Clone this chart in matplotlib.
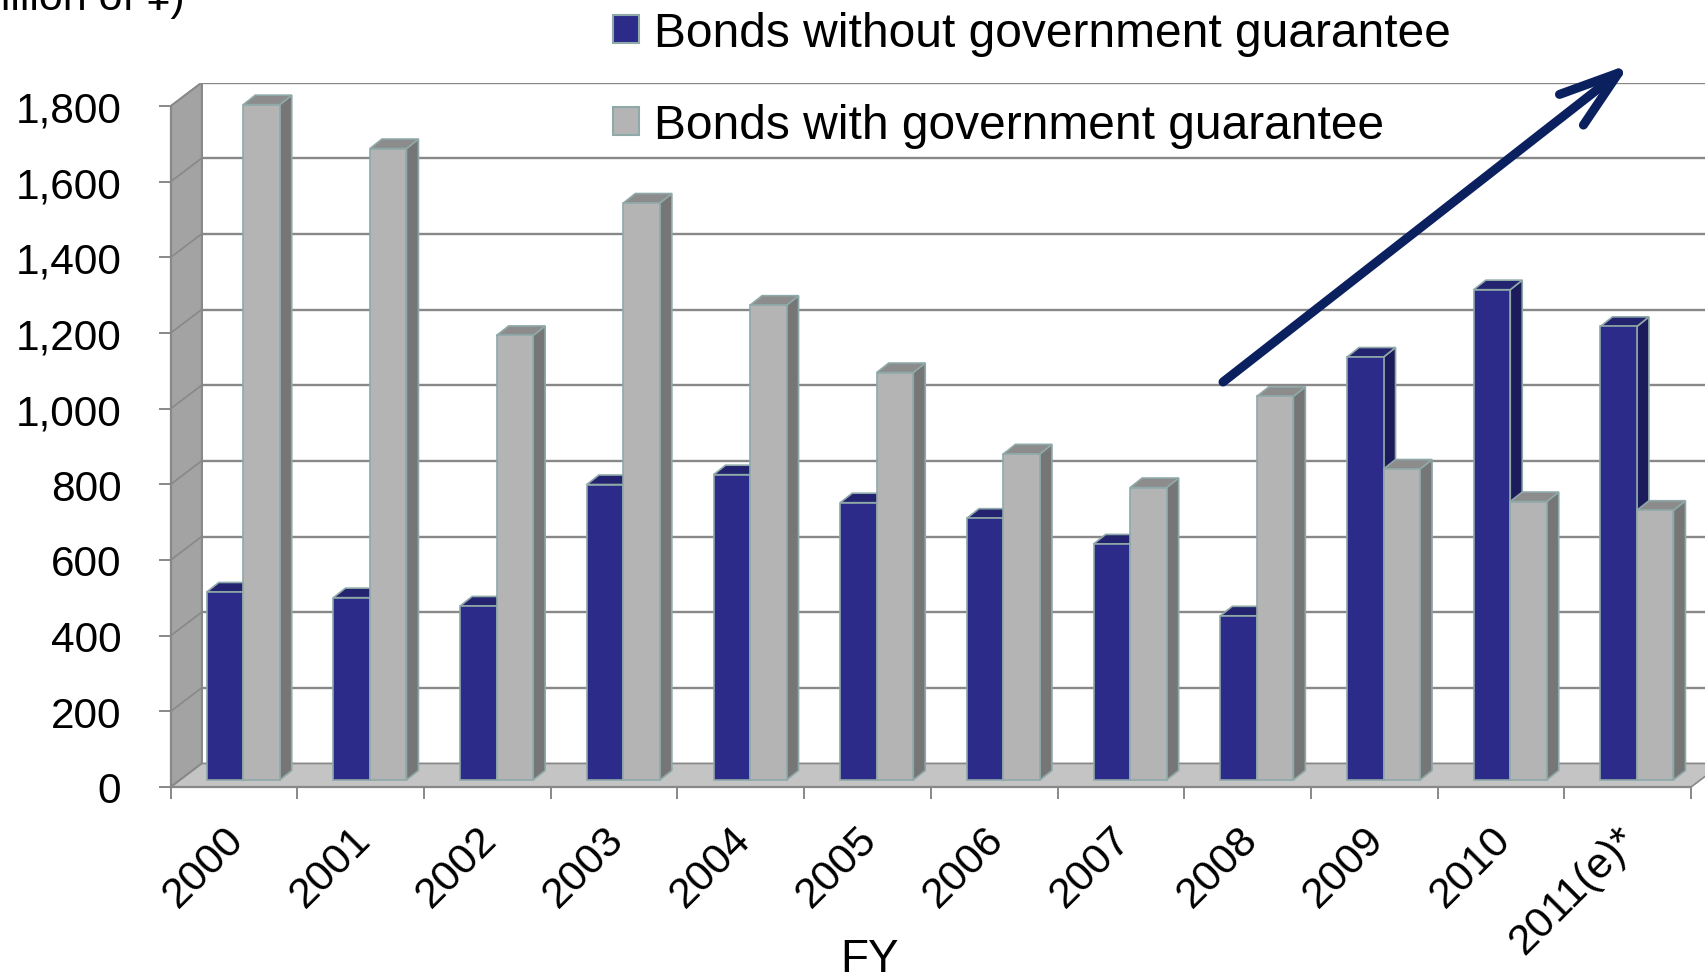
import numpy as np
import matplotlib
matplotlib.use('Agg')
import matplotlib.pyplot as plt
from matplotlib.patches import Polygon, Patch

plt.rcParams['font.family'] = ['Liberation Sans', 'DejaVu Sans']

# data (billion of yen)
years = ['2000', '2001', '2002', '2003', '2004', '2005', '2006', '2007',
         '2008', '2009', '2010', '2011(e)*']
without_guarantee = [497, 482, 460, 781, 807, 733, 692, 624, 434, 1118, 1296, 1199]
with_guarantee = [1785, 1669, 1175, 1525, 1255, 1077, 862, 773, 1014, 822, 736, 713]
yticks = [0, 200, 400, 600, 800, 1000, 1200, 1400, 1600, 1800]

# colours
blue_front, blue_side, blue_top = '#2c2b8a', '#1c1b5c', '#24236f'
gray_front, gray_side, gray_top = '#b4b4b4', '#767676', '#8c8c8c'
edge = '#8fa8a8'
wall_c, floor_c, grid_c = '#a3a3a3', '#c4c4c4', '#888888'

# fake 3d geometry (in data units)
px_x = 126.7            # pixels per category
px_y = 681 / 1800       # pixels per unit value
DX, DY = 31 / px_x, 23.5 / px_y          # depth of the whole box
OX, OY = 9.2 / px_x, 7 / px_y            # front plane of the bars
BDX, BDY = 12 / px_x, 9.5 / px_y         # depth of one bar
W = 36.5 / px_x

n = len(years)
x = np.arange(n)
ymax = yticks[-1]

W_PX, H_PX = 1706, 978
fig = plt.figure(figsize=(W_PX / 100, H_PX / 100), dpi=100)
ax = fig.add_axes([170.7 / W_PX, (H_PX - 788) / H_PX,
                   (n + DX) * px_x / W_PX, (ymax + DY) * px_y / H_PX])
ax.set_xlim(-0.5, n - 0.5 + DX)
ax.set_ylim(0, ymax + DY)

# back wall gridlines
for v in yticks:
    ax.plot([-0.5 + DX, n - 0.5 + DX], [v + DY, v + DY], color=grid_c, lw=1.7, zorder=1)
ax.plot([-0.5 + DX, -0.5 + DX], [DY, ymax + DY], color=grid_c, lw=1.4, zorder=1)

# side wall and floor
side = Polygon([(-0.5, 0), (-0.5, ymax), (-0.5 + DX, ymax + DY), (-0.5 + DX, DY)],
               closed=True, facecolor=wall_c, edgecolor=grid_c, lw=1.2, zorder=1.5)
floor = Polygon([(-0.5, 0), (n - 0.5, 0), (n - 0.5 + DX, DY), (-0.5 + DX, DY)],
                closed=True, facecolor=floor_c, edgecolor=grid_c, lw=1.2, zorder=1.5)
ax.add_patch(side)
ax.add_patch(floor)
for v in yticks:
    ax.plot([-0.5, -0.5 + DX], [v, v + DY], color=grid_c, lw=1.2, zorder=1.6)


def bar3d(xl, vals, front, sidec, topc, z):
    bars = ax.bar(xl, vals, width=W, bottom=OY, align='edge', color=front,
                  edgecolor=edge, linewidth=1.2, zorder=z + 0.2)
    for b in bars:
        x0, x1 = b.get_x(), b.get_x() + b.get_width()
        y0, y1 = b.get_y(), b.get_y() + b.get_height()
        ax.add_patch(Polygon([(x1, y0), (x1, y1), (x1 + BDX, y1 + BDY), (x1 + BDX, y0 + BDY)],
                             facecolor=sidec, edgecolor=edge, lw=1.2, zorder=z))
        ax.add_patch(Polygon([(x0, y1), (x1, y1), (x1 + BDX, y1 + BDY), (x0 + BDX, y1 + BDY)],
                             facecolor=topc, edgecolor=edge, lw=1.2, zorder=z + 0.1))
    return bars


for i in range(n):
    bar3d([x[i] - W + OX], [without_guarantee[i]], blue_front, blue_side, blue_top, 2 + i)
    bar3d([x[i] + OX], [with_guarantee[i]], gray_front, gray_side, gray_top, 2.5 + i)

# axes styling
for s in ['top', 'right']:
    ax.spines[s].set_visible(False)
ax.spines['left'].set_bounds(0, ymax)
ax.spines['bottom'].set_bounds(-0.5, n - 0.5)
for s in ['left', 'bottom']:
    ax.spines[s].set_color(grid_c)
    ax.spines[s].set_linewidth(1.6)
    ax.spines[s].set_zorder(1.7)

ax.set_yticks(yticks)
ax.set_yticklabels([f'{v:,}' for v in yticks])
ax.tick_params(axis='y', length=8.6, width=1.4, color=grid_c, pad=27, labelsize=30.5)

ax.set_xticks(x + 0.14)
ax.set_xticklabels(years, rotation=45, ha='right', rotation_mode='default')
ax.set_xticks(np.arange(n + 1) - 0.5, minor=True)
ax.tick_params(axis='x', which='major', length=0, pad=23, labelsize=31)
ax.tick_params(axis='x', which='minor', length=8.6, width=1.4, color=grid_c)

fig.text(870 / W_PX, 1 - 972 / H_PX, 'FY', ha='center', va='baseline', fontsize=33)
fig.text(185 / W_PX, 1 - 10 / H_PX, '(Billion of ¥)', ha='right', va='baseline', fontsize=31)

handles = [Patch(facecolor=blue_front, edgecolor=edge, lw=1.5),
           Patch(facecolor=gray_front, edgecolor=edge, lw=1.5)]
fig.legend(handles, ['Bonds without government guarantee', 'Bonds with government guarantee'],
           loc='upper left', bbox_to_anchor=(613 / W_PX, 1 - 12 / H_PX), frameon=False,
           fontsize=34.5, handlelength=0.55, handleheight=0.55, handletextpad=0.3,
           labelspacing=0.98, borderaxespad=0, borderpad=0)

# trend arrow
ax.annotate('', xy=(1630, H_PX - 65), xytext=(1223, H_PX - 383),
            xycoords='figure pixels', textcoords='figure pixels',
            arrowprops=dict(arrowstyle='->,head_length=4.3,head_width=1.4', lw=6.5,
                            color='#0b215f', shrinkA=0, shrinkB=0), zorder=50)

fig.savefig('out.png', dpi=100)
